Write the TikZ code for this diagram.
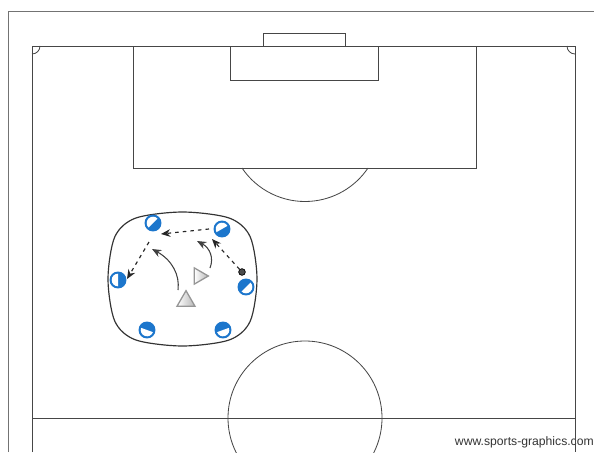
\documentclass[tikz,border=0pt]{standalone}
\usepackage{fontspec}
\setsansfont{Liberation Sans}
\usetikzlibrary{arrows.meta,shapes.geometric,calc}
\definecolor{plblue}{RGB}{28,118,204}
\definecolor{pitchln}{RGB}{70,70,70}
\definecolor{conegr}{RGB}{150,150,150}

\begin{document}
\begin{tikzpicture}[
    x=0.03cm, y=-0.03cm,
    >={Stealth[length=2.8mm,width=2.3mm]},
    pitch/.style={draw=pitchln, line width=0.7pt},
    frame/.style={draw=black!55, line width=0.8pt},
    area/.style={draw=black!80, line width=1pt},
    player/.style={circle, draw=plblue, line width=1.1pt, fill=plblue, minimum size=0.47cm, inner sep=0pt},
    ball/.style={circle, draw=black, fill=black!70, line width=0.6pt, minimum size=0.2cm, inner sep=0pt},
    cone/.style={draw=conegr, line width=1.1pt, fill=white, inner sep=0pt},
    pass/.style={->, black!85, line width=1pt, dash pattern=on 3pt off 3.5pt},
    run/.style={->, black!75, line width=0.9pt},
    credit/.style={font=\sffamily\fontsize{10.4}{12}\selectfont, text=black!80, inner sep=0pt},
  ]
  \useasboundingbox (0,0) rectangle (594,452);

  %% ---------------- pitch ----------------
  \draw[frame] (8,452) -- (8,11) -- (594,11);
  \node[credit, anchor=base east] (credit) at (594,445) {www.sports-graphics.com};
  \draw[pitch] (32,452) -- (32,46) -- (575,46) -- (575,452);
  \draw[pitch] (32,418) -- (575,418);
  \draw[pitch] (32,54) arc[start angle=90, end angle=0, radius=8];
  \draw[pitch] (567,46) arc[start angle=180, end angle=90, radius=8];
  \draw[pitch] (263,46) rectangle (345,33);
  \draw[pitch] (133,46) rectangle (476,168);
  \draw[pitch] (230,46) rectangle (378,80);
  \draw[pitch] (242,168) arc[start angle=146, end angle=34, radius=76];
  \draw[pitch] (305,418) circle[radius=77];

  %% ---------------- playing area ----------------
  \draw[area] plot[smooth cycle] coordinates {
    (257,279) (250.2,321.2) (229.4,339.9) (182.5,346) (135.6,339.9) (114.8,321.2)
    (108,279) (114.8,236.8) (135.6,218.1) (182.5,212) (229.4,218.1) (250.2,236.8)};

  %% ---------------- players ----------------
  \foreach \n/\px/\py/\d in {p1/153/223/-135, p2/222/229/-120, p3/118/280/180,
                             p4/246/287/45, p5/147/330/110, p6/223/330/70} {
    \node[player] (\n) at (\px,\py) {};
    \fill[white] ($(\n)+(\d-90:6.3)$) arc[start angle=\d-90, end angle=\d+90, radius=6.3] -- cycle;
  }
  \node[ball] (ball) at (242,272) {};

  %% ---------------- cones ----------------
  \node[cone, isosceles triangle, isosceles triangle apex angle=60, minimum height=0.42cm,
        shape border rotate=10, left color=white, right color=conegr!70] (c1) at (199,276) {};
  \node[cone, regular polygon, regular polygon sides=3, minimum size=0.62cm,
        shape border rotate=0, left color=white, right color=conegr!70] (c2) at (186,301) {};

  %% ---------------- passes ----------------
  \coordinate (pass1e) at (212,239);
  \coordinate (pass2s) at (209,229);
  \coordinate (pass2e) at (161,234);
  \coordinate (pass3s) at (149,242);
  \coordinate (pass3e) at (127,279);
  \draw[pass] (ball) -- (pass1e);
  \draw[pass] (pass2s) -- (pass2e);
  \draw[pass] (pass3s) -- (pass3e);

  %% ---------------- runs ----------------
  \coordinate (run1s) at (210,268);
  \coordinate (run1e) at (197,241);
  \coordinate (run2s) at (178,290);
  \coordinate (run2e) at (152,249);
  \draw[run] (run1s) .. controls (214,258) and (210,248) .. (run1e);
  \draw[run] (run2s) .. controls (180,275) and (172,260) .. (run2e);

\end{tikzpicture}
\end{document}
